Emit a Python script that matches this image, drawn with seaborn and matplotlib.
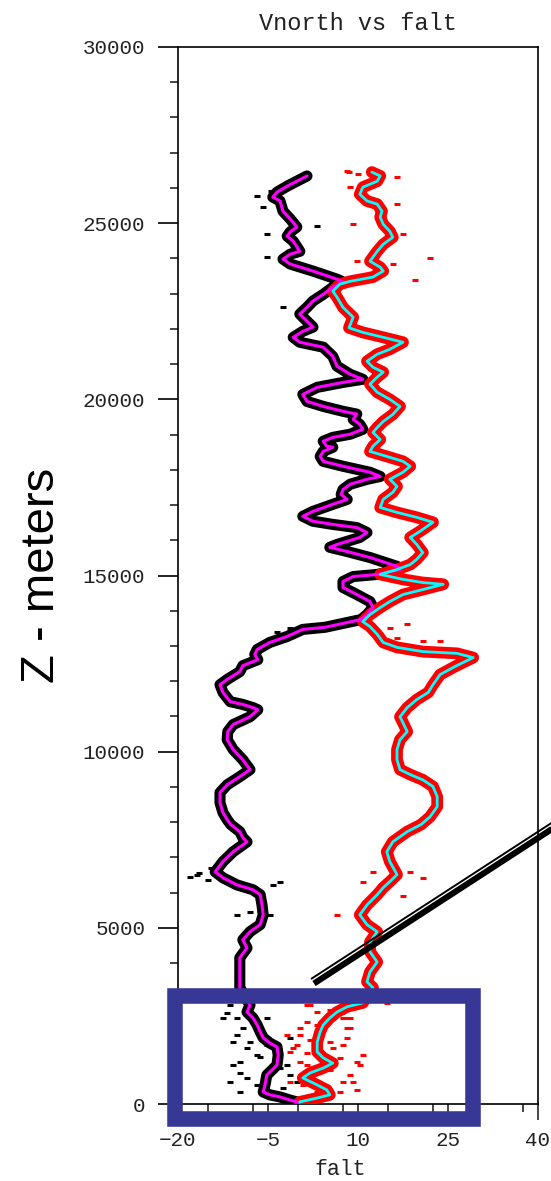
import numpy as np
import pandas as pd
import matplotlib
matplotlib.use("Agg")
import matplotlib.pyplot as plt
from matplotlib.patches import Rectangle
from matplotlib.lines import Line2D
from matplotlib.ticker import MultipleLocator, FixedLocator
import seaborn as sns

# ---------------- data ----------------
vnorth_x = [1.5, -0.2, -1.8, -3.5, -4.2, -3.0, -2.5, -1.3, -0.2, -1.3, -1.8, -0.8, 0.3, -1.3, -2.5, -1.3,
            2.5, 6.5, 7.5, 5.8, 4.2, 2.5, 1.5, 0.3, 1.5, 2.5, 0.8, -0.8, 0.3, 4.2, 5.8, 6.5, 8.7, 10.8,
            7.5, 3.2, 0.8, 1.5, 4.2, 7.5, 9.8, 9.2, 10.3, 10.8, 8.7, 5.8, 4.2, 4.8, 5.8, 4.2, 3.7, 4.2,
            7.5, 12.0, 13.7, 11.5, 8.7, 7.5, 7.2, 8.2, 5.8, 2.5, 0.8, 2.5, 5.8, 9.8, 11.5, 10.3, 6.5,
            5.3, 8.2, 12.0, 16.5, 17.0, 13.2, 9.2, 7.5, 7.5, 9.8, 12.0, 12.5, 11.5, 10.5, 4.5, 0.8,
            -1.8, -4.7, -6.8, -7.2, -6.7, -9.2, -9.7, -11.8, -13.0, -12.5, -11.3, -9.2, -7.5, -6.7,
            -8.0, -10.8, -11.7, -11.8, -10.8, -9.2, -8.0, -9.7, -11.8, -13.0, -13.0, -12.5, -11.8,
            -11.2, -9.7, -9.2, -8.5, -10.8, -12.5, -13.8, -12.5, -10.2, -7.5, -6.3, -6.0, -5.8, -6.3,
            -8.0, -9.2, -8.5, -9.7, -9.7, -9.7, -9.7, -8.0, -8.5, -7.5, -6.8, -6.3, -5.8, -4.7, -3.5,
            -3.3, -3.5, -4.3, -5.2, -5.5, -5.8, -4.7, -3.0, -1.3, -0.2, 0.2]
vnorth_z = [26340, 26190, 26050, 25880, 25740, 25630, 25340, 25120, 24890, 24750, 24630, 24490, 24200,
            24120, 23980, 23840, 23640, 23410, 23330, 23180, 22980, 22790, 22610, 22420, 22220, 22050,
            21930, 21760, 21620, 21480, 21220, 20940, 20710, 20570, 20480, 20340, 20140, 19940, 19800,
            19660, 19580, 19430, 19290, 19150, 19010, 18920, 18810, 18670, 18640, 18520, 18380, 18240,
            18100, 17930, 17810, 17730, 17590, 17440, 17300, 17160, 17020, 16820, 16680, 16540, 16450,
            16360, 16220, 16080, 15880, 15800, 15680, 15510, 15260, 15170, 15030, 14970, 14830, 14660,
            14460, 14260, 14090, 13890, 13750, 13530, 13470, 13270, 13100, 12900, 12760, 12610, 12440,
            12270, 12050, 11900, 11680, 11420, 11340, 11250, 11190, 10990, 10770, 10570, 10340, 10060,
            9770, 9490, 9290, 9060, 8840, 8550, 8270, 8070, 7930, 7730, 7560, 7440, 7160, 6880, 6590,
            6420, 6220, 6080, 5940, 5650, 5370, 5090, 4890, 4660, 4430, 4150, 3860, 3580, 3300, 2810,
            2610, 2440, 2240, 2050, 1880, 1730, 1620, 1390, 1110, 970, 820, 540, 340, 260, 200, 110,
            60, 20]

falt_x = [12.3, 13.7, 13.2, 10.8, 10.3, 11.5, 13.2, 14.0, 13.7, 14.2, 15.3, 15.8, 14.2, 13.2, 12.0,
          13.7, 14.2, 12.5, 8.7, 7.0, 5.8, 6.5, 7.5, 9.2, 8.5, 10.8, 14.2, 17.5, 15.3, 13.2, 11.5,
          12.5, 14.2, 13.2, 12.0, 13.2, 15.3, 17.0, 15.8, 14.2, 13.2, 12.5, 13.7, 12.5, 12.0, 14.8,
          17.5, 18.7, 17.5, 15.3, 16.5, 15.8, 14.2, 13.7, 16.5, 19.8, 22.5, 20.3, 18.7, 19.8, 20.8,
          19.8, 18.7, 16.5, 13.7, 17.5, 20.8, 24.2, 20.8, 17.5, 15.3, 13.7, 12.0, 10.8, 12.0, 13.2,
          14.2, 16.5, 20.8, 26.5, 29.2, 26.2, 23.7, 22.5, 21.7, 19.8, 18.2, 17.0, 17.5, 18.2, 17.0,
          16.5, 16.5, 17.0, 18.7, 20.8, 22.5, 23.2, 23.2, 22.0, 20.5, 18.2, 15.8, 14.8, 15.3, 16.5,
          15.3, 14.2, 13.2, 11.5, 10.3, 11.5, 13.2, 12.0, 12.0, 13.2, 12.0, 11.5, 12.5, 10.8, 8.2,
          6.5, 5.3, 4.2, 3.7, 3.2, 3.2, 4.2, 5.8, 4.2, 2.0, 0.8, 3.2, 4.8, 5.3, 3.2, 0.3]
falt_z = [26450, 26340, 26190, 26020, 25820, 25630, 25540, 25340, 25170, 24970, 24770, 24600, 24400,
          24200, 23920, 23750, 23640, 23470, 23350, 23270, 23070, 22900, 22610, 22330, 22030, 21900,
          21760, 21620, 21420, 21280, 21080, 20910, 20770, 20630, 20430, 20200, 20000, 19800, 19570,
          19370, 19200, 19060, 18860, 18670, 18520, 18380, 18240, 18100, 17930, 17730, 17530, 17360,
          17160, 16930, 16790, 16650, 16510, 16250, 16080, 15880, 15650, 15460, 15310, 15170, 15030,
          14890, 14800, 14750, 14600, 14460, 14260, 14090, 13890, 13690, 13550, 13330, 13100, 12960,
          12840, 12790, 12670, 12420, 12190, 11900, 11680, 11480, 11250, 10990, 10820, 10570, 10340,
          10060, 9770, 9490, 9350, 9200, 9010, 8720, 8440, 8150, 7930, 7730, 7440, 7160, 6880, 6510,
          6310, 6140, 5940, 5650, 5370, 5090, 4890, 4600, 4320, 4030, 3750, 3470, 3300, 2870, 2760,
          2610, 2440, 2240, 2050, 1760, 1480, 1310, 1160, 1020, 880, 740, 540, 400, 260, 170, 60]

# scattered raw samples lying away from the main bands
raw_v_x = [-12.5, -10.2, -8.0, -10.8, -9.7, -11.3, -9.7, -6.3, -1.3, -1.8, -0.2, -2.5, -5.2, -11.3,
           -18.0, -16.5, -15.0, -3.5, -1.3, -14.5, -4.5,
           -11.8, -10.2, -9.2, -10.8, -8.5, -6.8, -9.7, -8.5, -6.8, -3.0, -1.3, -5.2,
           -6.8, -5.8, -5.2, -5.2, 3.2, -2.5,
           -16.8, -4.2, -3.0, -10.2, -8.0, -4.7]
raw_v_z = [2440, 1960, 1760, 1110, 880, 630, 340, 1340, 1880, 1110, 630, 450, 2440, 2810,
           6450, 6550, 6350, 13410, 13520, 6700, 25900,
           2590, 2440, 2160, 1760, 1590, 1390, 1190, 740, 540, 1020, 820, 1680,
           25770, 25460, 24690, 24030, 24920, 22610,
           6510, 6220, 6310, 5370, 5450, 5370]
raw_f_x = [0.3, -1.8, -0.2, -1.3, 8.2, 8.7, 8.2, 10.8, 10.3, 8.7, 9.8, 7.5, 1.5, 3.2, 14.8, 5.8,
           1.5, -1.3, 3.2, 4.2, 15.3, 16.5, 18.2, 20.8, 23.7, 8.5, 10.0, 19.5, 22.0, 17.5,
           2.0, 5.3, 7.5, 8.7, 1.5, 3.2, 8.2, 0.3, 2.0, 5.3, 7.5, -0.8, 1.5, 3.7, 7.0, 9.8,
           0.3, 2.5, 5.3, 9.2, 0.8, 3.7, 7.0,
           8.2, 16.5, 17.5, 9.8, 15.8, 9.2, 16.5, 8.7,
           10.8, 20.8, 18.7, 6.5, 12.5]
raw_f_z = [2160, 1960, 1680, 1480, 2440, 2160, 1880, 1390, 1110, 820, 400, 630, 2810, 2610, 2870,
           1590, 1110, 630, 340, 2160, 13520, 13240, 13610, 13130, 13130, 26450, 26400, 23400,
           24000, 5900,
           2810, 2670, 2440, 2440, 2330, 2240, 2160, 1960, 1820, 1760, 1680, 1590, 1450, 1340, 1310,
           1190, 1190, 910, 970, 630, 540, 540, 340,
           26480, 26310, 24690, 23920, 23840, 24970, 25540, 26020,
           6310, 6420, 6590, 5370, 6590]

# ---------------- figure ----------------
sns.set_style("white")
plt.rcParams["font.family"] = ["Liberation Mono", "DejaVu Sans Mono"]

W, H = 551, 1181
fig = plt.figure(figsize=(W / 100, H / 100), dpi=100)
ax_left, ax_right = 178 / W, 538 / W
ax_bot, ax_top = 1 - 1104 / H, 1 - 47 / H
ax = fig.add_axes([ax_left, ax_bot, ax_right - ax_left, ax_top - ax_bot])

vn = pd.DataFrame({"falt": vnorth_x, "z": vnorth_z})
fa = pd.DataFrame({"falt": falt_x, "z": falt_z})

# black raw-sample band
sns.lineplot(data=vn, x="falt", y="z", sort=False, estimator=None, color="black", lw=8,
             ax=ax, zorder=2)
sns.scatterplot(x=raw_v_x, y=raw_v_z, color="black", marker="_", s=25, linewidth=2.2, ax=ax, zorder=2)
# red raw-sample band
sns.lineplot(data=fa, x="falt", y="z", sort=False, estimator=None, color="#ff0000", lw=8.5,
             ax=ax, zorder=3)
sns.scatterplot(x=raw_f_x, y=raw_f_z, color="#ff0000", marker="_", s=25, linewidth=2.2, ax=ax, zorder=3)
# smoothed profiles
sns.lineplot(data=vn, x="falt", y="z", sort=False, estimator=None, color="#ff00ff", lw=2.2,
             ax=ax, zorder=4)
sns.lineplot(data=fa, x="falt", y="z", sort=False, estimator=None, color="#00ffff", lw=2.0,
             ax=ax, zorder=5)

ax.set_xlim(-20, 40)
ax.set_ylim(0, 30000)
ax.xaxis.set_major_locator(FixedLocator([-20, -5, 10, 25, 40]))
ax.xaxis.set_minor_locator(MultipleLocator(7.5))
ax.yaxis.set_major_locator(MultipleLocator(5000))
ax.yaxis.set_minor_locator(MultipleLocator(1000))
ax.tick_params(axis="y", which="major", direction="out", length=14.5, width=1.2, pad=9,
               labelsize=15, left=True, right=False, colors="black")
ax.tick_params(axis="y", which="minor", direction="out", length=6, width=1.2, left=True, right=False)
ax.tick_params(axis="x", which="major", direction="out", length=11.5, width=1.2, pad=8,
               labelsize=15, bottom=True, top=False)
ax.tick_params(axis="x", which="minor", direction="out", length=6, width=1.2, bottom=True, top=False)
for lab in ax.get_yticklabels() + ax.get_xticklabels():
    lab.set_color("#222222")
for sp in ax.spines.values():
    sp.set_visible(True)
    sp.set_color("black")
    sp.set_linewidth(1.2)

ax.set_title("Vnorth vs falt", fontsize=17, pad=12, color="#222222")
ax.set_xlabel("falt", fontsize=15.5, color="#222222")
ax.xaxis.set_label_coords((340 - 178) / 360, -0.052)
ax.set_ylabel("Z - meters", fontsize=34, family=["Liberation Sans", "DejaVu Sans"],
              color="black", va="center")
ax.yaxis.set_label_coords((42 - 178) / 360, 0.5)

# ---------------- annotations ----------------
def fp(px, py):
    return px / W, 1 - py / H

x0, y0 = fp(174.75, 1119.25)
x1, y1 = fp(473.25, 995.75)
fig.add_artist(Rectangle((x0, y0), x1 - x0, y1 - y0, transform=fig.transFigure,
                         fill=False, edgecolor="#373796", lw=11.2, joinstyle="miter",
                         zorder=20))

a, b = fp(314, 983.5), fp(565, 820.5)
fig.add_artist(Line2D([a[0], b[0]], [a[1], b[1]], transform=fig.transFigure, color="black",
                      lw=4.4, solid_capstyle="butt", zorder=21))
a, b = fp(311, 979.0), fp(565, 814.2)
fig.add_artist(Line2D([a[0], b[0]], [a[1], b[1]], transform=fig.transFigure, color="black",
                      lw=1.4, solid_capstyle="butt", zorder=21))

fig.savefig("out.png", dpi=100, facecolor="white")
